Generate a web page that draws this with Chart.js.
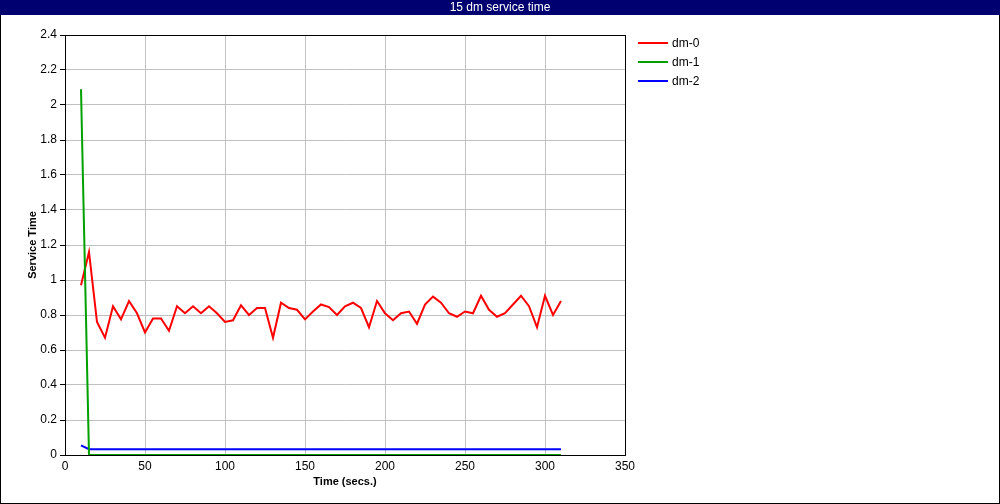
<!DOCTYPE html>
<html>
<head>
<meta charset="utf-8">
<script src="https://cdn.jsdelivr.net/npm/chart.js@4.4.0/dist/chart.umd.min.js"></script>
<style>
  html, body { margin: 0; padding: 0; background: #fff; }
  canvas { display: block; }
</style>
</head>
<body>
<canvas id="chart" width="1000" height="504"></canvas>
<script>
// Data
const chartTitle = '15 dm service time';
const seriesNames = ['dm-0', 'dm-1', 'dm-2'];
const seriesColors = ['#ff0000', '#00a000', '#0000ff'];

const times = [10, 15, 20, 25, 30, 35, 40, 45, 50, 55, 60, 65, 70, 75, 80, 85, 90, 95, 100, 105,
  110, 115, 120, 125, 130, 135, 140, 145, 150, 155, 160, 165, 170, 175, 180, 185, 190, 195, 200, 205,
  210, 215, 220, 225, 230, 235, 240, 245, 250, 255, 260, 265, 270, 275, 280, 285, 290, 295, 300, 305, 310];

const dm0 = [0.97, 1.16, 0.76, 0.67, 0.85, 0.775, 0.88, 0.81, 0.70, 0.78, 0.78, 0.71, 0.85, 0.81, 0.85, 0.81, 0.85, 0.81, 0.76, 0.77,
  0.855, 0.80, 0.84, 0.84, 0.67, 0.87, 0.84, 0.83, 0.775, 0.82, 0.86, 0.845, 0.80, 0.85, 0.87, 0.84, 0.73, 0.88, 0.81, 0.77,
  0.81, 0.82, 0.75, 0.86, 0.905, 0.87, 0.81, 0.79, 0.82, 0.81, 0.91, 0.83, 0.79, 0.81, 0.86, 0.91, 0.85, 0.73, 0.91, 0.80, 0.88];

const dm1 = [2.09, 0, 0, 0, 0, 0, 0, 0, 0, 0, 0, 0, 0, 0, 0, 0, 0, 0, 0, 0,
  0, 0, 0, 0, 0, 0, 0, 0, 0, 0, 0, 0, 0, 0, 0, 0, 0, 0, 0, 0,
  0, 0, 0, 0, 0, 0, 0, 0, 0, 0, 0, 0, 0, 0, 0, 0, 0, 0, 0, 0, 0];

const dm2 = [0.055, 0.033, 0.033, 0.033, 0.033, 0.033, 0.033, 0.033, 0.033, 0.033, 0.033, 0.033, 0.033, 0.033, 0.033, 0.033, 0.033, 0.033, 0.033, 0.033,
  0.033, 0.033, 0.033, 0.033, 0.033, 0.033, 0.033, 0.033, 0.033, 0.033, 0.033, 0.033, 0.033, 0.033, 0.033, 0.033, 0.033, 0.033, 0.033, 0.033,
  0.033, 0.033, 0.033, 0.033, 0.033, 0.033, 0.033, 0.033, 0.033, 0.033, 0.033, 0.033, 0.033, 0.033, 0.033, 0.033, 0.033, 0.033, 0.033, 0.033, 0.033];

const xTicks = [0, 50, 100, 150, 200, 250, 300, 350];
const yTicks = ['0', '0.2', '0.4', '0.6', '0.8', '1', '1.2', '1.4', '1.6', '1.8', '2', '2.2', '2.4'];

const FONT = '"Liberation Sans", Arial, sans-serif';

function toPoints(values) {
  return values.map((v, i) => ({ x: times[i], y: v }));
}

// Frame, title bar, plot box and legend
const framePlugin = {
  id: 'frame',
  beforeDraw(chart) {
    const ctx = chart.ctx;
    ctx.save();
    ctx.fillStyle = '#fff';
    ctx.fillRect(0, 0, chart.width, chart.height);
    ctx.restore();
  },
  afterDraw(chart) {
    const ctx = chart.ctx;
    const a = chart.chartArea;
    ctx.save();
    // plot box
    ctx.strokeStyle = '#000';
    ctx.lineWidth = 1;
    ctx.strokeRect(Math.round(a.left) + 0.5, Math.round(a.top) + 0.5, Math.round(a.right - a.left), Math.round(a.bottom - a.top));
    // outer border
    ctx.strokeRect(0.5, 0.5, chart.width - 1, chart.height - 1);
    // title bar
    ctx.fillStyle = '#000070';
    ctx.fillRect(0, 0, chart.width, 15);
    ctx.fillStyle = '#fff';
    ctx.font = '12px ' + FONT;
    ctx.textAlign = 'center';
    ctx.textBaseline = 'middle';
    ctx.fillText(chartTitle, chart.width / 2, 8);
    // legend
    ctx.textAlign = 'left';
    ctx.font = '12px ' + FONT;
    chart.data.datasets.forEach((ds, i) => {
      const y = 43 + i * 19;
      ctx.strokeStyle = ds.borderColor;
      ctx.lineWidth = 2;
      ctx.beginPath();
      ctx.moveTo(638, y);
      ctx.lineTo(668, y);
      ctx.stroke();
      ctx.fillStyle = '#000';
      ctx.fillText(ds.label, 672, y + 1);
    });
    ctx.restore();
  }
};

const ctx = document.getElementById('chart').getContext('2d');
const chart = new Chart(ctx, {
  type: 'line',
  data: {
    datasets: [
      { label: seriesNames[0], data: toPoints(dm0), borderColor: seriesColors[0], order: 1 },
      { label: seriesNames[1], data: toPoints(dm1), borderColor: seriesColors[1], order: 0 },
      { label: seriesNames[2], data: toPoints(dm2), borderColor: seriesColors[2], order: 2 }
    ]
  },
  options: {
    responsive: false,
    animation: false,
    devicePixelRatio: 1,
    layout: { padding: { left: 0, right: 375, top: 35, bottom: 0 } },
    elements: {
      line: { borderWidth: 2, tension: 0, fill: false },
      point: { radius: 0, hoverRadius: 0 }
    },
    plugins: {
      legend: { display: false },
      title: { display: false },
      tooltip: { enabled: false }
    },
    scales: {
      x: {
        type: 'linear',
        min: 0,
        max: 350,
        afterFit(scale) { scale.height = 49; },
        afterBuildTicks(scale) { scale.ticks = xTicks.map(v => ({ value: v })); },
        ticks: {
          color: '#000',
          font: { family: FONT, size: 12 },
          padding: 4,
          maxRotation: 0,
          callback: v => String(v)
        },
        grid: { color: '#c0c0c0', drawTicks: false },
        border: { color: '#000', width: 1 },
        title: {
          display: true,
          text: 'Time (secs.)',
          color: '#000',
          font: { family: FONT, size: 11, weight: 'bold' },
          padding: { top: 0, bottom: 15 }
        }
      },
      y: {
        type: 'linear',
        min: 0,
        max: 2.4,
        afterFit(scale) { scale.width = 65; },
        afterBuildTicks(scale) { scale.ticks = yTicks.map(t => ({ value: parseFloat(t) })); },
        ticks: {
          color: '#000',
          font: { family: FONT, size: 12 },
          padding: 3,
          callback: (v, i) => yTicks[i]
        },
        grid: { color: '#c0c0c0', tickColor: '#000', tickLength: 5 },
        border: { color: '#000', width: 1 },
        title: {
          display: true,
          text: 'Service Time',
          color: '#000',
          font: { family: FONT, size: 11, weight: 'bold' },
          padding: { top: 26, bottom: 0 }
        }
      }
    }
  },
  plugins: [framePlugin]
});
</script>
</body>
</html>
